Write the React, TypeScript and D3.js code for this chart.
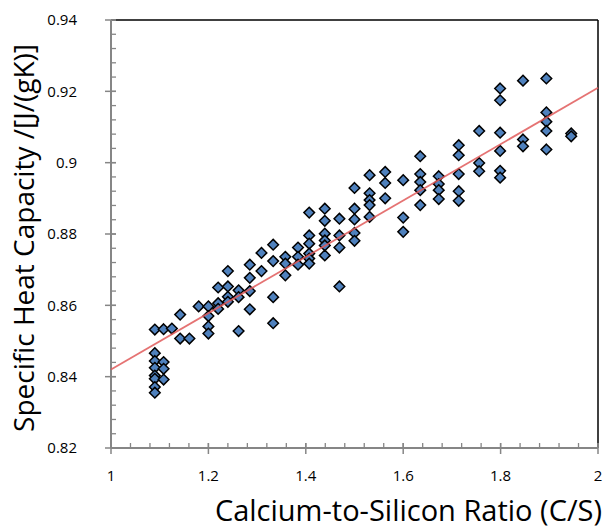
import React, { useRef, useEffect } from 'react';
import * as d3 from 'd3';

// C/S ratio levels and the measured heat capacities at each level
const ratioLevels = [
  1.09, 1.108, 1.125, 1.142, 1.161, 1.18, 1.2, 1.22, 1.24, 1.262,
  1.285, 1.309, 1.333, 1.358, 1.384, 1.407, 1.439, 1.469, 1.5, 1.531,
  1.563, 1.6, 1.635, 1.673, 1.714, 1.756, 1.799, 1.846, 1.894, 1.945,
];

const capacityByRatio = [
  [0.8532, 0.8466, 0.8444, 0.8425, 0.8403, 0.8394, 0.8371, 0.8355],
  [0.8533, 0.8441, 0.8422, 0.8392],
  [0.8535],
  [0.8574, 0.8507],
  [0.8507],
  [0.8597],
  [0.8597, 0.857, 0.8541, 0.8521],
  [0.865, 0.8606, 0.859],
  [0.8696, 0.8653, 0.8624, 0.861],
  [0.8642, 0.8623, 0.8528],
  [0.8714, 0.8677, 0.864, 0.8589],
  [0.8747, 0.8696],
  [0.877, 0.8724, 0.8623, 0.855],
  [0.8736, 0.8717, 0.8684],
  [0.8762, 0.8736, 0.8714],
  [0.886, 0.8796, 0.8773, 0.8745, 0.8731, 0.8717],
  [0.8871, 0.8837, 0.8801, 0.8782, 0.8768, 0.874],
  [0.8843, 0.8796, 0.8762, 0.8653],
  [0.8929, 0.8871, 0.8841, 0.8803, 0.8781],
  [0.8965, 0.8914, 0.8895, 0.8881, 0.8848],
  [0.8974, 0.8943, 0.89],
  [0.8951, 0.8846, 0.8806],
  [0.9018, 0.8968, 0.8946, 0.8923, 0.8881],
  [0.8962, 0.894, 0.8923, 0.8898],
  [0.9049, 0.9021, 0.8968, 0.892, 0.8893],
  [0.9089, 0.8999, 0.8976],
  [0.9208, 0.9175, 0.9084, 0.9033, 0.8977, 0.8958],
  [0.923, 0.9065, 0.9046],
  [0.9236, 0.9141, 0.9115, 0.9089, 0.9037],
  [0.9082, 0.9074],
];

// linear trendline end points (x, y)
const trendX = [1, 2];
const trendY = [0.842, 0.921];

const xTicks = [1, 1.2, 1.4, 1.6, 1.8, 2];
const yTicks = [0.82, 0.84, 0.86, 0.88, 0.9, 0.92, 0.94];

const font = '"Open Sans", Lato, sans-serif';

const App = () => {
  const svgRef = useRef<SVGSVGElement>(null);

  useEffect(() => {
    const width = 607;
    const height = 529;
    const margin = { top: 20, right: 9, bottom: 81, left: 111 };
    const innerWidth = width - margin.left - margin.right;
    const innerHeight = height - margin.top - margin.bottom;

    const root = d3.select(svgRef.current);
    root.selectAll('*').remove();
    const svg = root
      .append('g')
      .attr('transform', `translate(${margin.left}, ${margin.top})`);

    const xScale = d3.scaleLinear().domain([1, 2]).range([0, innerWidth]);
    const yScale = d3.scaleLinear().domain([0.82, 0.94]).range([innerHeight, 0]);

    const points = ratioLevels.flatMap((r, i) =>
      capacityByRatio[i].map(c => ({ x: r, y: c }))
    );

    const axisGray = '#868686';

    // frame: top and right in black
    svg.append('line')
      .attr('x1', 0).attr('x2', innerWidth)
      .attr('y1', 0).attr('y2', 0)
      .attr('stroke', '#000').attr('stroke-width', 1.5);
    svg.append('line')
      .attr('x1', innerWidth).attr('x2', innerWidth)
      .attr('y1', 0).attr('y2', innerHeight)
      .attr('stroke', '#000').attr('stroke-width', 1.5);

    // minor ticks
    const xMinor = d3.range(1, 2.0001, 0.04);
    const yMinor = d3.range(0.82, 0.94001, 0.004);
    svg.selectAll('.xminor')
      .data(xMinor)
      .enter()
      .append('line')
      .attr('x1', d => xScale(d)).attr('x2', d => xScale(d))
      .attr('y1', innerHeight - 5).attr('y2', innerHeight)
      .attr('stroke', axisGray).attr('stroke-width', 1.3);
    svg.selectAll('.yminor')
      .data(yMinor)
      .enter()
      .append('line')
      .attr('x1', 0).attr('x2', 5)
      .attr('y1', d => yScale(d)).attr('y2', d => yScale(d))
      .attr('stroke', axisGray).attr('stroke-width', 1.3);

    // major ticks
    svg.selectAll('.xmajor')
      .data(xTicks)
      .enter()
      .append('line')
      .attr('x1', d => xScale(d)).attr('x2', d => xScale(d))
      .attr('y1', innerHeight - 5).attr('y2', innerHeight + 6)
      .attr('stroke', axisGray).attr('stroke-width', 1.5);
    svg.selectAll('.ymajor')
      .data(yTicks)
      .enter()
      .append('line')
      .attr('x1', -6).attr('x2', 5)
      .attr('y1', d => yScale(d)).attr('y2', d => yScale(d))
      .attr('stroke', axisGray).attr('stroke-width', 1.5);

    // axis lines
    svg.append('line')
      .attr('x1', 0).attr('x2', 0)
      .attr('y1', 0).attr('y2', innerHeight)
      .attr('stroke', axisGray).attr('stroke-width', 2);
    svg.append('line')
      .attr('x1', 0).attr('x2', innerWidth)
      .attr('y1', innerHeight).attr('y2', innerHeight)
      .attr('stroke', axisGray).attr('stroke-width', 2);

    // tick labels
    svg.selectAll('.xlabel')
      .data(xTicks)
      .enter()
      .append('text')
      .attr('x', d => xScale(d))
      .attr('y', innerHeight + 33)
      .attr('text-anchor', 'middle')
      .attr('font-family', font)
      .attr('font-size', 15)
      .text(d => d3.format('')(d));
    svg.selectAll('.ylabel')
      .data(yTicks)
      .enter()
      .append('text')
      .attr('x', -34)
      .attr('y', d => yScale(d))
      .attr('dy', '0.35em')
      .attr('text-anchor', 'end')
      .attr('font-family', font)
      .attr('font-size', 15)
      .text(d => d3.format('')(d));

    // points
    const diamond = d3.symbol().type(d3.symbolDiamond2).size(72);
    svg.selectAll('.dot')
      .data(points)
      .enter()
      .append('path')
      .attr('class', 'dot')
      .attr('d', diamond)
      .attr('transform', d => `translate(${xScale(d.x)}, ${yScale(d.y)})`)
      .attr('fill', '#4f81bd')
      .attr('stroke', '#000')
      .attr('stroke-width', 1.5);

    // trendline
    const line = d3.line<number>()
      .x(d => xScale(trendX[d]))
      .y(d => yScale(trendY[d]));
    svg.append('path')
      .attr('d', line([0, 1]))
      .attr('fill', 'none')
      .attr('stroke', '#e05a5a')
      .attr('stroke-opacity', 0.85)
      .attr('stroke-width', 1.8);

    // axis titles
    root.append('text')
      .attr('transform', `translate(34, 238) rotate(-90)`)
      .attr('text-anchor', 'middle')
      .attr('font-family', font)
      .attr('font-size', 28)
      .text('Specific Heat Capacity /[J/(gK)]');
    root.append('text')
      .attr('x', 602)
      .attr('y', 521)
      .attr('text-anchor', 'end')
      .attr('font-family', font)
      .attr('font-size', 29)
      .text('Calcium-to-Silicon Ratio (C/S)');
  }, []);

  return (
    <svg
      ref={svgRef}
      width={607}
      height={529}
      style={{ position: 'absolute', left: 0, top: 0, background: '#fff' }}
    ></svg>
  );
};

export default App;
